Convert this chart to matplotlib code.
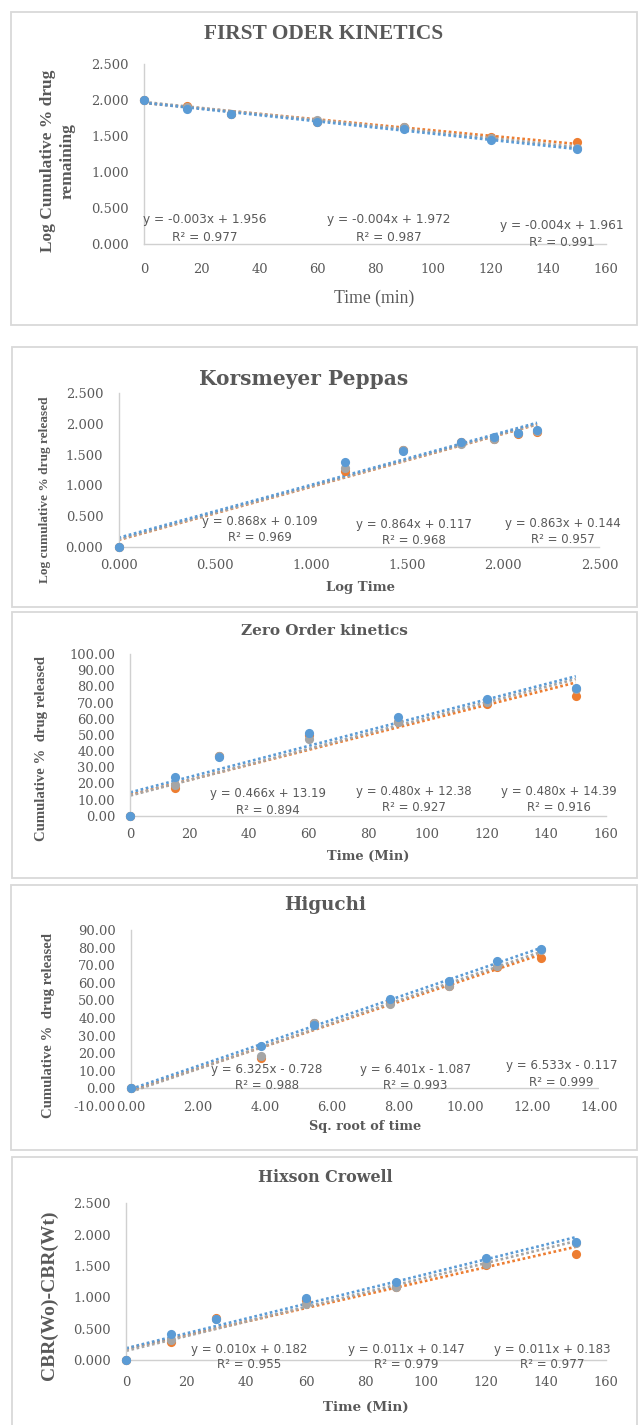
import numpy as np
import matplotlib
matplotlib.use("Agg")
import matplotlib.pyplot as plt
from matplotlib.patches import Rectangle
from matplotlib.ticker import FormatStrFormatter, MultipleLocator

plt.rcParams['font.family'] = ['DejaVu Serif']

W, H = 639, 1425
BLUE, ORANGE, GREY = '#5B9BD5', '#ED7D31', '#A5A5A5'
TXT = '#595959'
AXC = '#D0D0D0'

# sampling points
time = [0, 15, 30, 60, 90, 120, 150]
log_time = [0.000, 1.176, 1.477, 1.778, 1.954, 2.079, 2.176]
sqrt_time = [0.00, 3.87, 5.48, 7.75, 9.49, 10.95, 12.25]

# first order: log cumulative % drug remaining
fo_blue = [2.000, 1.881, 1.802, 1.690, 1.591, 1.447, 1.322]
fo_orange = [2.000, 1.919, 1.799, 1.699, 1.623, 1.491, 1.415]
fo_grey = [2.000, 1.908, 1.799, 1.720, 1.628, 1.477, 1.332]
fo_eq = ["y = -0.003x + 1.956\nR² = 0.977", "y = -0.004x + 1.972\nR² = 0.987",
         "y = -0.004x + 1.961\nR² = 0.991"]

# korsmeyer peppas: log cumulative % drug released
kp_blue = [0.000, 1.380, 1.562, 1.705, 1.785, 1.855, 1.897]
kp_orange = [0.000, 1.235, 1.568, 1.699, 1.763, 1.839, 1.870]
kp_grey = [0.000, 1.279, 1.568, 1.677, 1.760, 1.845, 1.893]
kp_eq = ["y = 0.868x + 0.109\nR² = 0.969", "y = 0.864x + 0.117\nR² = 0.968",
         "y = 0.863x + 0.144\nR² = 0.957"]

# zero order: cumulative % drug released
zo_blue = [0.0, 24.0, 36.5, 51.0, 61.0, 72.2, 79.0]
zo_orange = [0.0, 17.2, 37.2, 50.0, 58.0, 69.3, 74.2]
zo_grey = [0.0, 19.2, 37.2, 47.6, 57.9, 70.3, 78.5]
zo_eq = ["y = 0.466x + 13.19\nR² = 0.894", "y = 0.480x + 12.38\nR² = 0.927",
         "y = 0.480x + 14.39\nR² = 0.916"]

# higuchi: cumulative % drug released vs sq. root of time
hg_blue = [0.0, 23.9, 36.0, 50.8, 61.0, 72.4, 79.2]
hg_orange = [0.0, 17.0, 37.0, 49.5, 58.0, 69.2, 74.3]
hg_grey = [0.0, 18.4, 37.0, 47.7, 58.2, 69.7, 78.5]
hg_eq = ["y = 6.325x - 0.728\nR² = 0.988", "y = 6.401x - 1.087\nR² = 0.993",
         "y = 6.533x - 0.117\nR² = 0.999"]

# hixson crowell: CBR(Wo)-CBR(Wt)
hc_blue = [0.000, 0.410, 0.654, 0.990, 1.250, 1.620, 1.883]
hc_orange = [0.000, 0.287, 0.675, 0.960, 1.170, 1.510, 1.690]
hc_grey = [0.000, 0.320, 0.660, 0.900, 1.170, 1.530, 1.870]
hc_eq = ["y = 0.010x + 0.182\nR² = 0.955", "y = 0.011x + 0.147\nR² = 0.979",
         "y = 0.011x + 0.183\nR² = 0.977"]

fig = plt.figure(figsize=(W / 100, H / 100), dpi=100)


def ftext(x, y, s, **kw):
    kw.setdefault('ha', 'center')
    kw.setdefault('va', 'center')
    kw.setdefault('color', TXT)
    fig.text(x / W, 1 - y / H, s, **kw)


def box(x0, y0, x1, y1):
    fig.patches.append(Rectangle((x0 / W, 1 - y1 / H), (x1 - x0) / W, (y1 - y0) / H,
                                 transform=fig.transFigure, fill=False,
                                 ec='#D9D9D9', lw=1.3))


def panel(x0, x1, ytop, ybot, xs, series, xlim, ylim, xstep, ystep, xfmt, yfmt, xpad):
    ax = fig.add_axes([x0 / W, 1 - ybot / H, (x1 - x0) / W, (ybot - ytop) / H])
    ax.set_xlim(*xlim)
    ax.set_ylim(*ylim)
    for s in ['top', 'right']:
        ax.spines[s].set_visible(False)
    for s in ['left', 'bottom']:
        ax.spines[s].set_color(AXC)
        ax.spines[s].set_linewidth(1)
    ax.xaxis.set_major_locator(MultipleLocator(xstep))
    ax.yaxis.set_major_locator(MultipleLocator(ystep))
    ax.xaxis.set_major_formatter(FormatStrFormatter(xfmt))
    ax.yaxis.set_major_formatter(FormatStrFormatter(yfmt))
    ax.tick_params(length=0, colors=TXT, labelsize=9.4)
    ax.tick_params(axis='y', pad=11)
    ax.tick_params(axis='x', pad=xpad)
    ax.patch.set_alpha(0)
    x = np.array(xs)
    # trendlines (linear fit of each series)
    for ys, c in series:
        k, b = np.polyfit(x, ys, 1)
        xx = np.array([x.min(), x.max()])
        ax.plot(xx, k * xx + b, color=c, lw=1.9, ls=(0, (1, 1)), zorder=2,
                solid_capstyle='round', dash_capstyle='butt')
    for ys, c in series:
        ax.plot(x, ys, 'o', color=c, ms=6.6, mew=0, zorder=3, clip_on=False)
    return ax


# ---------------- panel 1 ----------------
box(11, 12, 637, 325)
panel(144, 606, 64, 244, time, [(fo_orange, ORANGE), (fo_grey, GREY), (fo_blue, BLUE)],
      (0, 160), (0, 2.5), 20, 0.5, '%d', '%.3f', 14)
ftext(324, 34, "FIRST ODER KINETICS", family='Liberation Serif', weight='bold', size=15.4)
ftext(57.5, 161, "Log Cumulative % drug\nremaining", family='Liberation Serif',
      weight='bold', size=12.5, rotation=90, linespacing=1.3, multialignment='center')
ftext(374, 298, "Time (min)", family='Liberation Serif', size=12.7)
for (x, y), s in zip([(204.5, 228.5), (389, 228.5), (562, 234)], fo_eq):
    ftext(x, y, s, family='DejaVu Sans', size=8.7, linespacing=1.45)

# ---------------- panel 2 ----------------
box(12, 347, 637, 607)
panel(118.6, 599.4, 393.3, 546.7, log_time, [(kp_orange, ORANGE), (kp_grey, GREY), (kp_blue, BLUE)],
      (0, 2.5), (0, 2.5), 0.5, 0.5, '%.3f', '%.3f', 9)
ftext(303.6, 379, "Korsmeyer Peppas", weight='bold', size=14.5)
ftext(45.4, 489.5, "Log cumulative % drug released", family='Liberation Serif',
      weight='bold', size=9.6, rotation=90)
ftext(360.4, 587, "Log Time", weight='bold', size=9.5)
for (x, y), s in zip([(260, 529.5), (414, 532.7), (563.3, 531.7)], kp_eq):
    ftext(x, y, s, family='DejaVu Sans', size=8.5, linespacing=1.3)

# ---------------- panel 3 ----------------
box(12, 612, 637, 878)
panel(130.4, 605.5, 654, 815.7, time, [(zo_orange, ORANGE), (zo_grey, GREY), (zo_blue, BLUE)],
      (0, 160), (0, 100), 20, 10, '%d', '%.2f', 9)
ftext(324.8, 631, "Zero Order kinetics", weight='bold', size=11)
ftext(42, 748.8, "Cumulative %  drug released", family='Liberation Serif',
      weight='bold', size=10.6, rotation=90)
ftext(367.8, 856.7, "Time (Min)", weight='bold', size=9.4)
for (x, y), s in zip([(268, 802), (414, 799.3), (559, 799.3)], zo_eq):
    ftext(x, y, s, family='DejaVu Sans', size=8.5, linespacing=1.3)

# ---------------- panel 4 ----------------
box(11, 885, 637, 1150)
ax4 = panel(131.2, 599.4, 930, 1105.9, sqrt_time, [(hg_orange, ORANGE), (hg_grey, GREY), (hg_blue, BLUE)],
            (0, 14), (-10, 90), 2, 10, '%.2f', '%.2f', -3.5)
ax4.spines['bottom'].set_visible(False)
ax4.spines['left'].set_bounds(0, 90)
ax4.axhline(0, color=AXC, lw=1, zorder=1)
ftext(325.3, 905, "Higuchi", weight='bold', size=13.2)
ftext(48.9, 1025.5, "Cumulative %  drug released", family='Liberation Serif',
      weight='bold', size=10.6, rotation=90)
ftext(365, 1126.7, "Sq. root of time", weight='bold', size=9.3)
for (x, y), s in zip([(266.6, 1077.8), (415.7, 1077.8), (561.6, 1074)], hg_eq):
    ftext(x, y, s, family='DejaVu Sans', size=8.6, linespacing=1.3)

# ---------------- panel 5 ----------------
box(12, 1157, 637, 1440)
panel(126.3, 605.5, 1203.3, 1360, time, [(hc_orange, ORANGE), (hc_grey, GREY), (hc_blue, BLUE)],
      (0, 160), (0, 2.5), 20, 0.5, '%d', '%.3f', 11.5)
ftext(325.4, 1177, "Hixson Crowell", weight='bold', size=11.4)
ftext(49, 1295.7, "CBR(Wo)-CBR(Wt)", family='Liberation Serif', weight='bold',
      size=14, rotation=90)
ftext(366.3, 1407.3, "Time (Min)", weight='bold', size=9.7)
for (x, y), s in zip([(249.5, 1357), (406.5, 1357), (552.3, 1357)], hc_eq):
    ftext(x, y, s, family='DejaVu Sans', size=8.6, linespacing=1.3)

fig.savefig('out.png', dpi=100, facecolor='white')
